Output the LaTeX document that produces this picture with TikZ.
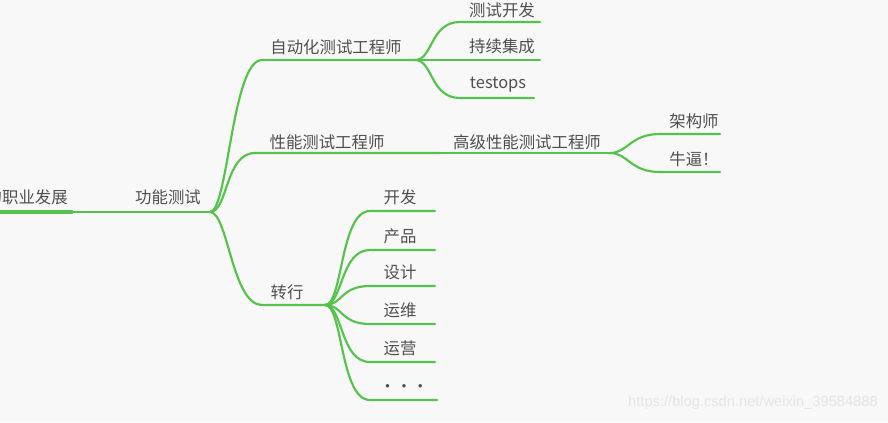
\documentclass[tikz,border=0pt]{standalone}
\usepackage{fontspec}
\setmainfont{Noto Sans CJK SC}
\newfontfamily\wm{Liberation Sans}
\definecolor{bg}{HTML}{F7F8F7}
\definecolor{br}{RGB}{85,195,75}
\definecolor{tx}{HTML}{505050}
\tikzset{lbl/.style={text=tx,font=\fontsize{12.3}{14}\selectfont,inner sep=0pt},
 br/.style={draw=br,line width=1.6pt,line cap=round},
 cv/.style={to path={.. controls ($(\tikztostart)+(18,0)$) and ($(\tikztotarget)+(-30,0)$) .. (\tikztotarget)}}}
\usetikzlibrary{calc}
\begin{document}
\begin{tikzpicture}[x=0.75pt,y=-0.75pt]
\path[fill=bg,use as bounding box] (0,0) rectangle (888,422);
\begin{scope}
\clip (0,0) rectangle (888,422);
\node[lbl,anchor=east] (root) at (68,197) {的职业发展};
\coordinate (r0) at (-5,212);
\coordinate (r1) at (72,212);
\coordinate (p) at (210,212);
\draw[br,line width=2.6pt] (r0)--(r1);
\draw[br] (r1)--(p);
\node[lbl] (gn) at (168,197) {功能测试};
% automation
\node[lbl] (a) at (336,47) {自动化测试工程师};
\coordinate (a0) at (262,60); \coordinate (a1) at (415,60);
\draw[br] (p) to[cv] (a0) -- (a1);
\node[lbl] (a1t) at (502,10) {测试开发};
\node[lbl] (a2t) at (502,46) {持续集成};
\node[lbl] (a3t) at (498,85) {testops};
\coordinate (a1s) at (460,22); \coordinate (a1e) at (540,22);
\coordinate (a2s) at (460,60); \coordinate (a2e) at (540,60);
\coordinate (a3s) at (460,98); \coordinate (a3e) at (534,98);
\draw[br] (a1) to[cv] (a1s) -- (a1e);
\draw[br] (a1) -- (a2e);
\draw[br] (a1) to[cv] (a3s) -- (a3e);
% performance
\node[lbl] (b) at (327,142) {性能测试工程师};
\coordinate (b0) at (255,153); \coordinate (b1) at (440,153);
\draw[br] (p) to[cv] (b0) -- (b1);
\node[lbl] (c) at (527,142) {高级性能测试工程师};
\coordinate (c1) at (610,153);
\draw[br] (b1) -- (c1);
\node[lbl] (c1t) at (694,121) {架构师};
\node[lbl] (c2t) at (694,159) {牛逼！};
\coordinate (c1s) at (660,134); \coordinate (c1e) at (720,134);
\coordinate (c2s) at (660,172); \coordinate (c2e) at (720,172);
\draw[br] (c1) to[cv] (c1s) -- (c1e);
\draw[br] (c1) to[cv] (c2s) -- (c2e);
% transfer
\node[lbl] (d) at (287,292) {转行};
\coordinate (d0) at (262,305); \coordinate (d1) at (325,305);
\draw[br] (p) to[cv] (d0) -- (d1);
\foreach \n/\t/\y in {1/开发/197,2/产品/236,3/设计/272,4/运维/310,5/运营/348}{
  \node[lbl] (d\n t) at (400,\y) {\t};
  \coordinate (d\n s) at (370,\y+14); \coordinate (d\n e) at (435,\y+14);
  \draw[br] (d1) to[cv] (d\n s) -- (d\n e);
}
\node[lbl] (d6t) at (404,389) {・・・};
\coordinate (d6s) at (370,400); \coordinate (d6e) at (437,400);
\draw[br] (d1) to[cv] (d6s) -- (d6e);
\node[text=black!10,font=\wm\fontsize{11}{12}\selectfont,anchor=east,inner sep=0pt] (wm) at (878,403) {https://blog.csdn.net/weixin\_39584888};
\end{scope}
\end{tikzpicture}
\end{document}
